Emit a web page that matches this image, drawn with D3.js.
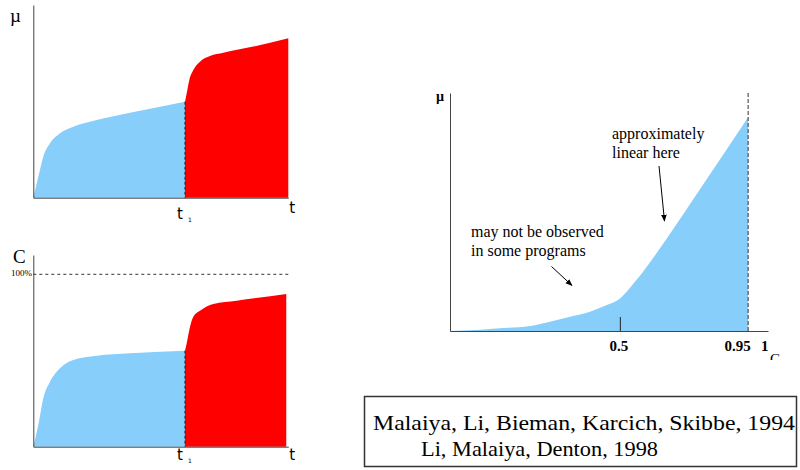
<!DOCTYPE html>
<html>
<head>
<meta charset="utf-8">
<script src="https://cdn.jsdelivr.net/npm/d3@7"></script>
<style>
  body { margin: 0; background: #fff; }
  svg { display: block; }
  text { font-family: "Liberation Serif", "Times New Roman", serif; fill: #000; }
</style>
</head>
<body>
<svg id="chart" width="800" height="470"></svg>
<script>
// ---- data ----
// top left: mu vs t, before and after t1
const muBlueT = [0, 0.196, 0.392, 0.655, 1.047, 1.569, 2.486, 3.792, 4.969, 5.949];
const muBlueV = [0, 1.09, 2.13, 2.82, 3.34, 3.68, 4.03, 4.41, 4.72, 4.98];
const muRedT = [5.949, 6.016, 6.118, 6.275, 6.537, 6.929, 7.451, 8.627, 10];
const muRedV = [4.98, 5.42, 6.11, 6.63, 7.06, 7.35, 7.52, 7.84, 8.27];

// bottom left: coverage C (%) vs t
const covBlueT = [0, 0.196, 0.392, 0.655, 1.047, 1.569, 2.486, 3.792, 4.969, 5.949];
const covBlueV = [0, 12.6, 28.1, 37.7, 45.5, 50.3, 52.8, 54.2, 55.1, 55.7];
const covRedT = [5.949, 6.016, 6.118, 6.275, 6.537, 7.059, 7.976, 9.92];
const covRedV = [55.7, 60.0, 67.7, 75.4, 78.9, 82.8, 84.7, 88.6];

const t1 = 5.949;
const fullCoverage = 100;

// right: mu vs coverage
const coverage = [-0.1, -0.053, 0.064, 0.182, 0.252, 0.323, 0.393, 0.452, 0.499, 0.522, 0.545, 0.569, 0.604, 0.781, 0.95];
const defects = [0, 0.002, 0.011, 0.021, 0.039, 0.060, 0.081, 0.109, 0.137, 0.165, 0.198, 0.232, 0.288, 0.597, 0.898];
const covTicks = ["0.5", "0.95", "1"];
const markAt = 0.5;
const cutoff = 0.95;

const citation = ["Malaiya, Li, Bieman, Karcich, Skibbe, 1994", "Li, Malaiya, Denton, 1998"];

const blue = "#87cefa", red = "#ff0000", axisCol = "#444";

const svg = d3.select("#chart");
const zip = (a, b) => a.map((d, i) => [d, b[i]]);

svg.append("defs").append("marker")
  .attr("id", "head")
  .attr("viewBox", "0 0 10 10")
  .attr("refX", 9).attr("refY", 5)
  .attr("markerWidth", 7).attr("markerHeight", 7)
  .attr("markerUnits", "userSpaceOnUse")
  .attr("orient", "auto")
  .append("path").attr("d", "M0,1L10,5L0,9Z").attr("fill", "#000");

// left panels share the t scale
const x = d3.scaleLinear().domain([0, 10]).range([33.3, 288.3]);

function leftPanel(y, blueT, blueV, redT, redV, yLabel, lab) {
  const g = svg.append("g");
  const area = d3.area()
    .x(d => x(d[0])).y0(y(0)).y1(d => y(d[1]))
    .curve(d3.curveMonotoneX);

  g.append("path").datum(zip(blueT, blueV)).attr("d", area).attr("fill", blue);
  g.append("path").datum(zip(redT, redV)).attr("d", area).attr("fill", red);

  // dashed line at t1
  g.append("line")
    .attr("x1", x(t1)).attr("x2", x(t1))
    .attr("y1", y(blueV[blueV.length - 1])).attr("y2", y(0))
    .attr("stroke", "#222").attr("stroke-dasharray", "3,2");

  // axes
  g.append("g").attr("transform", `translate(0,${y(0)})`)
    .call(d3.axisBottom(x).ticks(0).tickSizeOuter(0))
    .call(a => a.select(".domain").attr("stroke", axisCol));
  g.append("g").attr("transform", `translate(${x(0)},0)`)
    .call(d3.axisLeft(y).ticks(0).tickSizeOuter(0))
    .call(a => a.select(".domain").attr("stroke", axisCol));

  g.append("text").attr("x", lab.lx).attr("y", lab.ly)
    .style("font-size", "19px").text(yLabel);

  g.append("text").attr("x", x(10) + 1).attr("y", lab.t)
    .style("font-family", "DejaVu Sans, sans-serif").style("font-size", "15px").text("t");
  g.append("text").attr("x", x(t1) - 8).attr("y", lab.t1)
    .style("font-family", "DejaVu Sans, sans-serif").style("font-size", "15px").text("t");
  g.append("text").attr("x", x(t1) + 3).attr("y", lab.sub)
    .style("font-family", "DejaVu Sans, sans-serif").style("font-size", "6px")
    .attr("fill", "#555").text("1");
  return g;
}

// top left
const yMu = d3.scaleLinear().domain([0, 10]).range([197.7, 5]);
leftPanel(yMu, muBlueT, muBlueV, muRedT, muRedV, "\u00b5",
  { lx: 10, ly: 22, t: 213, t1: 219, sub: 222 });

// bottom left
const yCov = d3.scaleLinear().domain([0, 111.2]).range([446.7, 255]);
const bl = leftPanel(yCov, covBlueT, covBlueV, covRedT, covRedV, "C",
  { lx: 13, ly: 263, t: 460, t1: 460, sub: 463 });
bl.append("line")
  .attr("x1", x(0)).attr("x2", x(10))
  .attr("y1", yCov(fullCoverage)).attr("y2", yCov(fullCoverage))
  .attr("stroke", "#333").attr("stroke-dasharray", "3,3");
bl.append("text").attr("x", 32).attr("y", yCov(fullCoverage) + 2)
  .attr("text-anchor", "end").style("font-size", "8px")
  .attr("textLength", 21).attr("lengthAdjust", "spacingAndGlyphs").text("100%");

// right panel
const xc = d3.scaleLinear().domain([-0.1, 1.02]).range([450, 768]);
const yc = d3.scaleLinear().domain([0, 1]).range([331, 93]);
const rg = svg.append("g");

rg.append("path").datum(zip(coverage, defects))
  .attr("d", d3.area().x(d => xc(d[0])).y0(yc(0)).y1(d => yc(d[1])).curve(d3.curveMonotoneX))
  .attr("fill", blue);

rg.append("line")
  .attr("x1", xc(cutoff)).attr("x2", xc(cutoff))
  .attr("y1", yc(1)).attr("y2", yc(0))
  .attr("stroke", "#333").attr("stroke-dasharray", "4,2");

rg.append("line")
  .attr("x1", xc(markAt)).attr("x2", xc(markAt))
  .attr("y1", yc(0)).attr("y2", yc(0) - 14)
  .attr("stroke", "#222");

rg.append("g").attr("transform", `translate(0,${yc(0)})`)
  .call(d3.axisBottom(xc).tickValues(covTicks.map(Number)).tickFormat(d => String(d)).tickSize(0).tickPadding(9))
  .call(a => a.select(".domain").attr("stroke", axisCol))
  .call(a => a.selectAll(".tick text")
    .style("font-family", "Liberation Serif, serif").style("font-weight", "bold")
    .style("font-size", "15px").attr("fill", "#000"))
  .call(a => a.selectAll(".tick").filter(d => d === 0.5).select("text").attr("dx", -2))
  .call(a => a.selectAll(".tick").filter(d => d === 0.95).select("text")
    .attr("text-anchor", "end").attr("dx", 2))
  .call(a => a.selectAll(".tick").filter(d => d === 1).select("text").attr("dx", 2));

rg.append("g").attr("transform", `translate(${xc(-0.1)},0)`)
  .call(d3.axisLeft(yc).ticks(0).tickSizeOuter(0))
  .call(a => a.select(".domain").attr("stroke", axisCol));

rg.append("text").attr("x", 436).attr("y", 101)
  .style("font-size", "14px").style("font-weight", "bold").text("\u00b5");

// clipped axis title, cut off at the bottom as in the source
rg.append("clipPath").attr("id", "cclip")
  .append("rect").attr("x", 760).attr("y", 340).attr("width", 30).attr("height", 20);
rg.append("text").attr("x", 770).attr("y", 364).attr("clip-path", "url(#cclip)")
  .style("font-size", "15px").text("C");

// annotations
const ann = rg.append("g").style("font-size", "16px");
ann.append("text").attr("x", 612).attr("y", 139).text("approximately");
ann.append("text").attr("x", 612).attr("y", 158).text("linear here");
ann.append("text").attr("x", 471).attr("y", 237).text("may not be observed");
ann.append("text").attr("x", 471).attr("y", 256).text("in some programs");

ann.append("line").attr("x1", 659).attr("y1", 166).attr("x2", 664.5).attr("y2", 221)
  .attr("stroke", "#000").attr("marker-end", "url(#head)");
ann.append("line").attr("x1", 551.5).attr("y1", 266.5).attr("x2", 572).attr("y2", 285.5)
  .attr("stroke", "#000").attr("marker-end", "url(#head)");

// citation box
const cb = svg.append("g");
cb.append("rect").attr("x", 364.5).attr("y", 396.5).attr("width", 432).attr("height", 70)
  .attr("fill", "none").attr("stroke", "#333").attr("stroke-width", 1.5);
cb.append("text").attr("x", 373).attr("y", 430).style("font-size", "22px")
  .attr("textLength", 422).attr("lengthAdjust", "spacingAndGlyphs").text(citation[0]);
cb.append("text").attr("x", 421).attr("y", 456).style("font-size", "22px")
  .attr("textLength", 237).attr("lengthAdjust", "spacingAndGlyphs").text(citation[1]);
</script>
</body>
</html>
